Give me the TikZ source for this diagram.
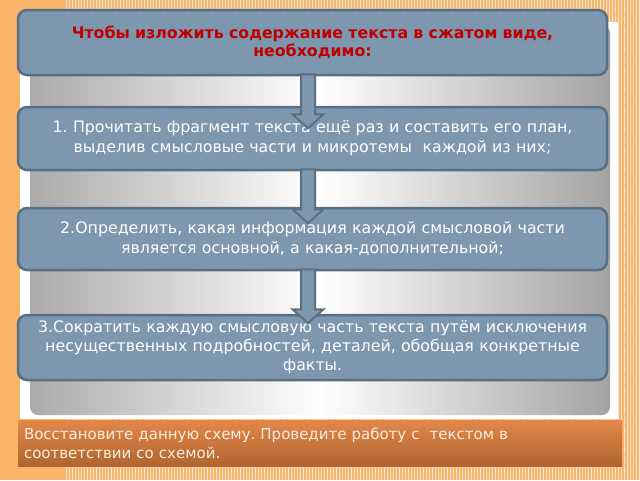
\documentclass[tikz,border=0pt]{standalone}
\usepackage{fontspec}
\setmainfont{DejaVu Sans}
\usetikzlibrary{calc}
\definecolor{boxfill}{HTML}{7C97AE}
\definecolor{boxline}{HTML}{5B6F82}
\definecolor{pagebg}{HTML}{F8B469}
\definecolor{pagedot}{HTML}{E59C55}
\definecolor{headred}{HTML}{C00000}
\definecolor{bartop}{HTML}{E3874A}
\definecolor{barbot}{HTML}{B0652E}
\definecolor{bartext}{HTML}{F8EFE4}
\frenchspacing
\tikzset{%
    stepbox/.style={%
        draw=boxline, line width=2.5pt, fill=boxfill, rounded corners=9pt,
        minimum width=589pt, text width=580pt, align=center, inner sep=0pt,
        text=white, font=\fontsize{15.8}{20}\selectfont
    },
    headbox/.style={%
        stepbox, text=headred, font=\bfseries\fontsize{15.8}{18}\selectfont
    },
    notebar/.style={%
        top color=bartop, bottom color=barbot, minimum width=604pt,
        minimum height=46pt, text width=592pt, align=left, inner sep=0pt,
        text=bartext, font=\fontsize{15}{19}\selectfont
    },
    blockarrow/.style={%
        draw=boxline, line width=2pt, fill=boxfill, line join=miter
    }
}
% block arrow hanging below a box
\newcommand{\downstep}[1]{%
    \draw[blockarrow]
        ($(#1.south)+(-11.5,-2)$) -- ($(#1.south)+(2.5,-2)$)
        -- ($(#1.south)+(2.5,38)$) -- ($(#1.south)+(11,38)$)
        -- ($(#1.south)+(-4.5,52)$)
        -- ($(#1.south)+(-20,38)$) -- ($(#1.south)+(-11.5,38)$) -- cycle;
}

\begin{document}
\begin{tikzpicture}[x=1pt, y=-1pt]
    \useasboundingbox (0,0) rectangle (640,480);
    % page
    \fill[pagebg] (0,0) rectangle (640,480);
    \foreach \x in {66,69,...,640}
        \draw[pagedot!25, line width=0.5pt] (\x,0) -- (\x,480);
    \foreach \x in {5,15,...,635}
        \foreach \y in {5,15,...,475}
            \fill[pagedot] (\x,\y) circle (0.7);
    % panel
    \fill[white] (20,22) rectangle (618,419);
    \shade[left color=black!33, right color=black!36, middle color=white,
        rounded corners=8pt] (30,25) rectangle (610,415);

    \node[headbox, minimum height=65pt] (b0) at (312.5,42.5)
        {Чтобы изложить содержание текста в сжатом виде,\\необходимо:};
    \node[stepbox, minimum height=63pt] (b1) at (312.5,138.5)
        {1. Прочитать фрагмент текста ещё раз и составить его план,\\
         выделив смысловые части и микротемы\ \ каждой из них;};
    \node[stepbox, minimum height=62pt] (b2) at (312.5,239)
        {2.Определить, какая информация каждой смысловой части\\
         является основной, а какая-дополнительной;};
    \node[stepbox, minimum height=65pt, font=\fontsize{15.8}{19}\selectfont] (b3)
        at (312.5,347.5)
        {3.Сократить каждую смысловую часть текста путём исключения\\
         несущественных подробностей, деталей, обобщая конкретные\\
         факты.};

    \downstep{b0}
    \downstep{b1}
    \downstep{b2}

    \node[notebar] (note) at (320,443)
        {Восстановите данную схему. Проведите работу с\ \ текстом в\\
         соответствии со схемой.};
\end{tikzpicture}
\end{document}
